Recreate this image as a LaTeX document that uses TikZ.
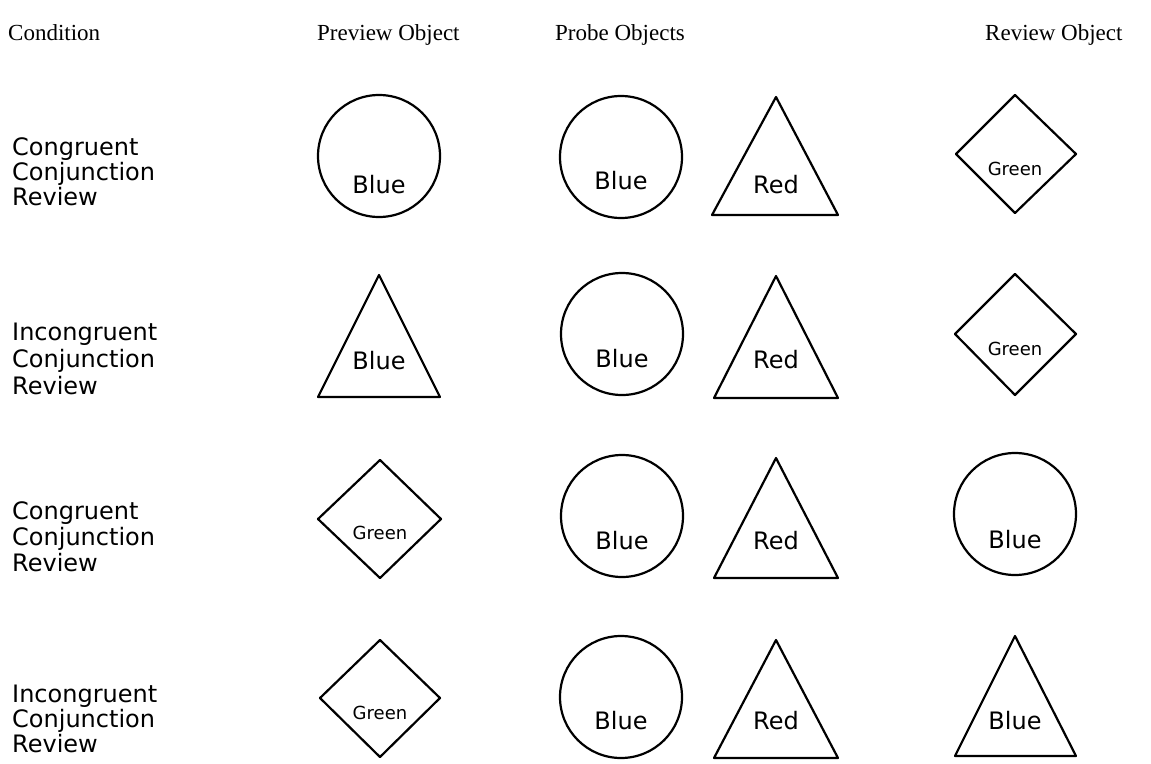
\documentclass[tikz,border=0pt]{standalone}
\usepackage{fontspec}
\setmainfont{Liberation Serif}
\newfontfamily\labelfont{DejaVu Sans}
\usetikzlibrary{positioning}

\tikzset{
  outline/.style={line width=2.2pt, line join=round},
  head/.style={anchor=base west, inner sep=0pt, font=\fontsize{23}{27}\selectfont},
  cond/.style={anchor=base west, inner sep=0pt, font=\labelfont\fontsize{24}{26}\selectfont},
  word/.style={inner sep=0pt, font=\labelfont\fontsize{24}{26}\selectfont},
  smallword/.style={inner sep=0pt, font=\labelfont\fontsize{18}{20}\selectfont},
}

\begin{document}
\begin{tikzpicture}[x=1pt, y=-1pt]

    \useasboundingbox (0,0) rectangle (1151,763);

    % column heads
    \node[head] (hcond) at (8,40) {Condition};
    \node[head] (hprev) at (317,40) {Preview Object};
    \node[head] (hprob) at (555,40) {Probe Objects};
    \node[head] (hrev) at (985,40) {Review Object};

    % conditions
    \node[cond] (c1a) at (12,155) {Congruent};
    \node[cond, below=25pt of c1a.base west, anchor=base west] (c1b) {Conjunction};
    \node[cond, below=25pt of c1b.base west, anchor=base west] (c1c) {Review};
    \node[cond] (c2a) at (12,340) {Incongruent};
    \node[cond, below=27pt of c2a.base west, anchor=base west] (c2b) {Conjunction};
    \node[cond, below=27pt of c2b.base west, anchor=base west] (c2c) {Review};
    \node[cond] (c3a) at (12,519) {Congruent};
    \node[cond, below=26pt of c3a.base west, anchor=base west] (c3b) {Conjunction};
    \node[cond, below=26pt of c3b.base west, anchor=base west] (c3c) {Review};
    \node[cond] (c4a) at (12,702) {Incongruent};
    \node[cond, below=25pt of c4a.base west, anchor=base west] (c4b) {Conjunction};
    \node[cond, below=25pt of c4b.base west, anchor=base west] (c4c) {Review};

    % row 1
    \draw[outline] (379,156) circle[radius=61];
    \node[word] (pre1) at (379,185) {Blue};
    \draw[outline] (621,157) circle[radius=61];
    \node[word] (prc1) at (621,181) {Blue};
    \draw[outline] (776,97) -- (838,215) -- (712,215) -- cycle;
    \node[word] (prt1) at (776,185) {Red};
    \draw[outline] (1015,95) -- (1076,154) -- (1015,213) -- (956,154) -- cycle;
    \node[smallword] (rev1) at (1015,169) {Green};

    % row 2
    \draw[outline] (379,275) -- (440,397) -- (318,397) -- cycle;
    \node[word] (pre2) at (379,361) {Blue};
    \draw[outline] (622,334) circle[radius=61];
    \node[word] (prc2) at (622,359) {Blue};
    \draw[outline] (776,276) -- (838,398) -- (714,398) -- cycle;
    \node[word] (prt2) at (776,360) {Red};
    \draw[outline] (1015,274) -- (1076,334) -- (1015,395) -- (955,334) -- cycle;
    \node[smallword] (rev2) at (1015,349) {Green};

    % row 3
    \draw[outline] (380,460) -- (441,519) -- (380,578) -- (318,519) -- cycle;
    \node[smallword] (pre3) at (380,533) {Green};
    \draw[outline] (622,516) circle[radius=61];
    \node[word] (prc3) at (622,541) {Blue};
    \draw[outline] (776,458) -- (838,578) -- (714,578) -- cycle;
    \node[word] (prt3) at (776,541) {Red};
    \draw[outline] (1015,514) circle[radius=61];
    \node[word] (rev3) at (1015,540) {Blue};

    % row 4
    \draw[outline] (380,640) -- (440,698) -- (380,757) -- (320,698) -- cycle;
    \node[smallword] (pre4) at (380,713) {Green};
    \draw[outline] (621,697) circle[radius=61];
    \node[word] (prc4) at (621,721) {Blue};
    \draw[outline] (776,640) -- (838,758) -- (714,758) -- cycle;
    \node[word] (prt4) at (776,721) {Red};
    \draw[outline] (1015,636) -- (1076,756) -- (955,756) -- cycle;
    \node[word] (rev4) at (1015,721) {Blue};
\end{tikzpicture}
\end{document}
